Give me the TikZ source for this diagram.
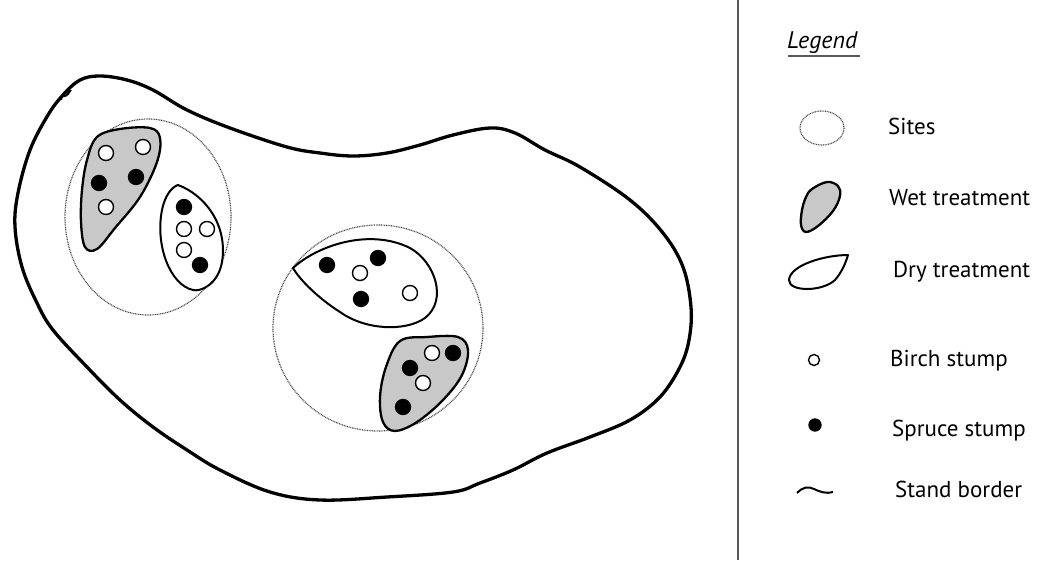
\documentclass[tikz,border=0pt]{standalone}
\usepackage{fontspec}
\setmainfont{PT Sans}
\definecolor{wetgray}{RGB}{200,200,200}
\definecolor{sitegray}{RGB}{70,70,70}
\definecolor{linegray}{RGB}{90,90,90}
\begin{document}
\begin{tikzpicture}[x=1pt,y=-1pt,
  border/.style={line width=3.3pt,line join=round},
  wetblob/.style={draw=black,fill=wetgray,line width=2.3pt,line join=round},
  dryblob/.style={draw=black,fill=white,line width=2pt,line join=round},
  sitecirc/.style={draw=sitegray,line width=1.2pt,dash pattern=on 0.9pt off 0.8pt},
  birch/.style={circle,draw=black,fill=white,line width=1.4pt,minimum size=15pt,inner sep=0pt},
  spruce/.style={circle,draw=black,fill=black,line width=1.3pt,minimum size=15pt,inner sep=0pt},
  lbl/.style={anchor=base west,inner sep=0pt,font=\fontsize{23}{27}\selectfont}
]
\useasboundingbox (0,0) rectangle (1053,560);

% stand border
\draw[border] plot[smooth cycle,tension=0.6] coordinates {
 (63,95) (80,80) (100,76) (127,80) (153,90) (187,110) (230,128) (287,147)
 (320,153) (353,156) (387,153) (420,145) (453,135) (490,128) (515,133)
 (545,150) (580,167) (630,200) (663,233) (683,267) (691,307) (689,340)
 (680,367) (660,397) (630,420) (590,437) (547,453) (513,470) (480,483)
 (453,492) (387,497) (320,500) (270,492) (220,470) (187,450) (153,427)
 (120,400) (87,367) (53,330) (37,303) (22,267) (15,227) (18,193) (30,150) (48,115)};
\draw[line width=2pt] (61,100) .. controls (62,93) and (66,90) .. (70,91) .. controls (68,95) and (65,97) .. (62,96);

% left site
\draw[sitecirc] (148,217) ellipse [x radius=83, y radius=98];
\draw[wetblob] plot[smooth cycle,tension=0.6] coordinates {
 (97,137) (120,129) (150,128) (160,138) (157,162) (140,197) (115,228)
 (97,249) (85,247) (81,222) (82,190) (87,160)};
\draw[dryblob] (178,185) .. controls (205,195) and (228,225) .. (222,262)
  .. controls (218,285) and (200,292) .. (193,290)
  .. controls (170,285) and (155,245) .. (162,210)
  .. controls (165,195) and (172,187) .. (178,185) -- cycle;
\node[birch] (w1a) at (106,153) {};
\node[birch] (w1b) at (143,147) {};
\node[spruce] (w1c) at (99,183) {};
\node[spruce] (w1d) at (136,177) {};
\node[birch] (w1e) at (106,207) {};
\node[spruce] (d1a) at (184,207) {};
\node[birch] (d1b) at (184,229) {};
\node[birch] (d1c) at (207,229) {};
\node[birch] (d1d) at (184,250) {};
\node[spruce] (d1e) at (200,265) {};

% right site
\draw[sitecirc] (378,328) ellipse [x radius=105, y radius=103];
\draw[dryblob] (293,268) .. controls (318,245) and (370,228) .. (410,248)
  .. controls (435,262) and (448,300) .. (425,318)
  .. controls (405,332) and (365,330) .. (340,312)
  .. controls (318,298) and (300,280) .. (293,268) -- cycle;
\draw[wetblob] plot[smooth cycle,tension=0.6] coordinates {
 (400,341) (427,337) (458,337) (468,350) (462,375) (443,400) (417,422)
 (395,431) (383,422) (380,397) (386,367)};
\node[spruce] (d2a) at (327,265) {};
\node[birch] (d2b) at (360,273) {};
\node[spruce] (d2c) at (378,258) {};
\node[spruce] (d2d) at (361,299) {};
\node[birch] (d2e) at (410,293) {};
\node[birch] (w2a) at (432,353) {};
\node[spruce] (w2b) at (453,353) {};
\node[spruce] (w2c) at (410,368) {};
\node[birch] (w2d) at (423,383) {};
\node[spruce] (w2e) at (403,407) {};

% legend separator
\draw[line width=2pt,linegray] (738,0) -- (738,560);

% legend
\node[lbl,font=\fontsize{24}{28}\selectfont\itshape] (leg) at (787,48) {Legend};
\draw[line width=2.8pt,linegray] (788,56) -- (860,56);

\draw[sitecirc] (822,128) ellipse [x radius=22, y radius=17];
\node[lbl] (tsites) at (888,134) {Sites};

\draw[wetblob] plot[smooth cycle,tension=0.6] coordinates {
 (812,189) (827,182) (838,186) (840,196) (833,211) (818,226) (806,232)
 (801,225) (802,210) (806,197)};
\node[lbl] (twet) at (889,205) {Wet treatment};

\draw[dryblob] (848,255) .. controls (825,255) and (790,265) .. (789,280)
  .. controls (789,292) and (822,292) .. (835,280)
  .. controls (842,272) and (846,262) .. (848,255) -- cycle;
\node[lbl] (tdry) at (893,277) {Dry treatment};

\node[birch,minimum size=11pt] (lbirch) at (814,360) {};
\node[lbl] (tbirch) at (890,366) {Birch stump};

\node[spruce,minimum size=12pt] (lspruce) at (815,425) {};
\node[lbl] (tspruce) at (892,436) {Spruce stump};

\draw[line width=2pt] (797,493) .. controls (803,487) and (808,486) .. (814,489) .. controls (820,492) and (827,494) .. (833,492);
\node[lbl] (tstand) at (895,497) {Stand border};
\end{tikzpicture}
\end{document}
